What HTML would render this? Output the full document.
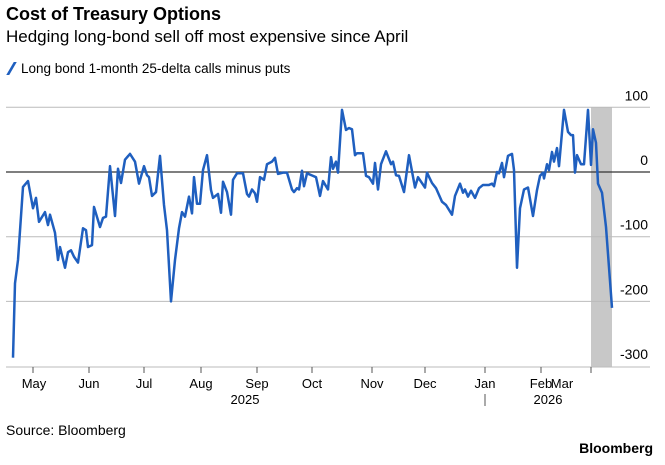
<!DOCTYPE html>
<html><head><meta charset="utf-8"><style>
body{margin:0;background:#fff;font-family:"Liberation Sans",sans-serif;}
#wrap{position:relative;width:665px;height:465px;overflow:hidden;}
.t{position:absolute;white-space:nowrap;color:#000;}
</style></head><body>
<div id="wrap">
<div class="t" style="left:6px;top:4px;font-size:18px;font-weight:bold;">Cost of Treasury Options</div>
<div class="t" style="left:6px;top:27px;font-size:17px;">Hedging long-bond sell off most expensive since April</div>
<div class="t" style="left:6px;top:61px;font-size:13.5px;"><span style="display:inline-block;width:3px;height:13px;background:#1f5fbf;transform:skewX(-30deg);margin:0 8px -2px 4px;"></span>Long bond 1-month 25-delta calls minus puts</div>
<svg id="chart" width="665" height="465" style="position:absolute;left:0;top:0"></svg>
<div class="t" style="left:6px;top:422px;font-size:14px;">Source: Bloomberg</div>
<div class="t" style="right:12px;top:440px;font-size:14px;font-weight:bold;">Bloomberg</div>
</div>
<script>
const t=[0,2,5,10,15,20,23,26,32,35,37,42,45,47,52,55,58,61,65,70,73,75,79,81,87,90,93,97,102,105,108,112,117,122,126,131,134,136,139,143,147,151,154,158,162,166,169,172,176,179,181,184,187,190,194,198,200,205,208,210,214,218,220,224,230,234,236,239,242,244,247,251,254,259,262,265,270,274,279,281,284,286,289,291,294,300,303,307,310,315,318,320,323,325,329,333,336,339,342,344,347,350,353,356,360,362,365,368,373,378,380,383,386,391,396,402,405,412,414,419,423,429,433,439,442,447,450,452,455,458,462,466,470,476,479,481,484,486,489,491,495,499,501,504,507,511,515,520,524,527,530,531,534,536,539,541,544,546,551,555,558,560,562,564,568,571,575,578,580,583,585,589,593,599];
const v=[-287,-172,-136,-23,-14,-56,-40,-77,-62,-82,-66,-94,-136,-116,-148,-124,-121,-131,-140,-87,-90,-116,-113,-54,-85,-71,-69,9,-68,5,-17,19,28,16,-18,9,-5,-8,-37,-31,25,-51,-90,-200,-136,-87,-62,-69,-38,-64,-8,-49,-49,3,26,-28,-40,-34,-63,-15,-31,-66,-12,-2,-2,-34,-38,-27,-33,-46,-8,-12,12,16,22,-3,-1,-1,-27,-31,-25,-27,2,-22,-2,-6,-8,-37,-14,-27,23,5,16,-1,96,65,68,66,26,29,29,29,-6,-8,-18,14,-27,12,32,12,16,-5,-6,-31,26,-24,-8,-24,-1,-17,-25,-46,-51,-66,-37,-18,-32,-27,-38,-29,-40,-25,-20,-20,-18,-22,0,-2,14,-8,25,28,3,-148,-56,-27,-24,-68,-28,-6,-1,-10,12,3,31,16,37,9,96,62,57,57,-1,26,12,12,96,11,66,45,-18,-32,-85,-210];
const yTicks=[100,0,-100,-200,-300];
const monthTicks=[20,76,131,188,244,299,359,412,472,528,578];
const monthLabels=["May","Jun","Jul","Aug","Sep","Oct","Nov","Dec","Jan","Feb","Mar"];
const monthLabelPos=[21,76,131,188,244,299,359,412,472,528,549];
const yearLabels=["2025","2026"];
const yearPos=[232,535];
const shadeStart=578, shadeEnd=599;
const NS="http://www.w3.org/2000/svg", svg=document.getElementById('chart');
const X=d=>13+d, Y=val=>172-val*0.647;
function mk(tag,a){const e=document.createElementNS(NS,tag);for(const k in a)e.setAttribute(k,a[k]);svg.appendChild(e);return e;}
let r=mk('rect',{x:X(shadeStart),y:Y(100),width:X(shadeEnd)-X(shadeStart),height:367-Y(100),fill:'#c8c8c8'});


yTicks.forEach(tv=>{
 if(tv>-300){let l=mk('line',{x1:6,x2:650,y1:Y(tv),y2:Y(tv),stroke:tv===0?'#333':'#bbb','stroke-width':tv===0?1.2:1});
 
 }
 let tx=mk('text',{x:648,y:Y(tv)-7,'text-anchor':'end','font-size':14,'font-family':'Liberation Sans'});tx.textContent=(tv<0?'-':'')+Math.abs(tv);
 
 
});
let ax=mk('line',{x1:6,x2:650,y1:367,y2:367,stroke:'#bbb'});


monthTicks.forEach(m=>{let l=mk('line',{x1:X(m),x2:X(m),y1:367,y2:373,stroke:'#555'});
 
 });
monthLabels.forEach((m,i)=>{let tx=mk('text',{x:X(monthLabelPos[i]),y:388,'text-anchor':'middle','font-size':13,'font-family':'Liberation Sans'});tx.textContent=m;
 
 });
yearLabels.forEach((m,i)=>{let tx=mk('text',{x:X(yearPos[i]),y:404,'text-anchor':'middle','font-size':13,'font-family':'Liberation Sans'});tx.textContent=m;
 
 });
let sep=mk('line',{x1:X(472),x2:X(472),y1:394,y2:406,stroke:'#555'});


let p=mk('polyline',{points:t.map((d,i)=>X(d)+','+Y(v[i])).join(' '),fill:'none',stroke:'#1f5fbf','stroke-width':2.5,'stroke-linejoin':'round'});


</script>
</body></html>
